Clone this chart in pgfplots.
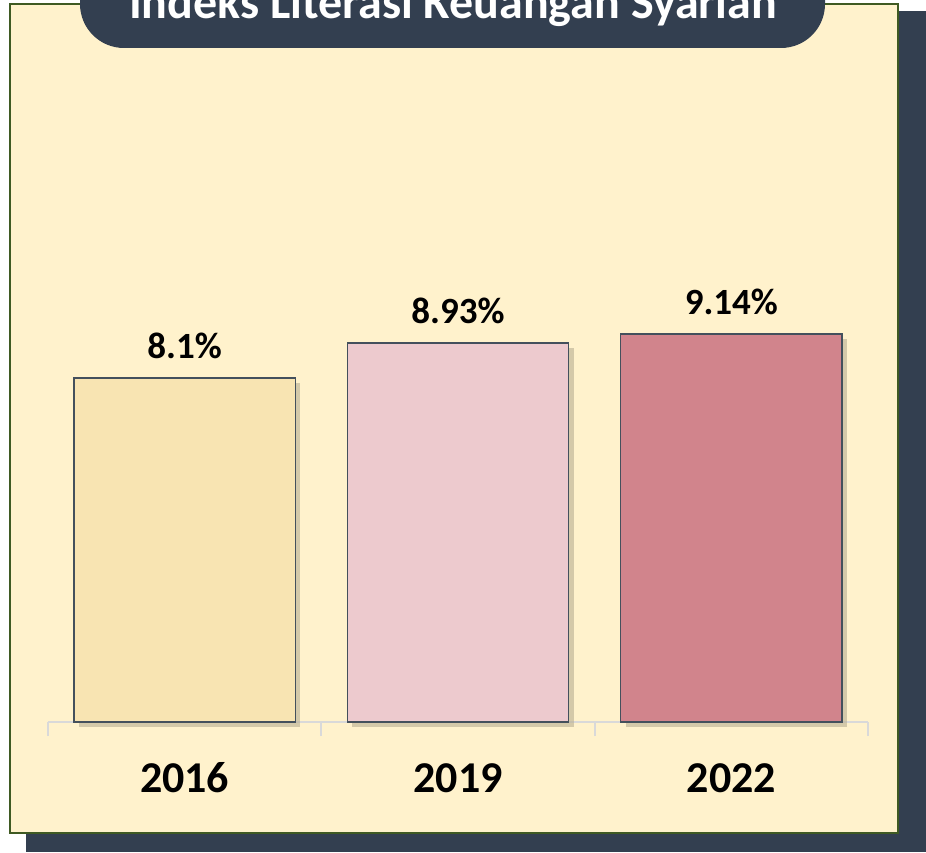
\documentclass[border=0pt]{standalone}
\usepackage{pgfplots}
\pgfplotsset{compat=1.18}
\usepackage{fontspec}
\setmainfont{Carlito}
\definecolor{navy}{HTML}{333F50}
\definecolor{cream}{HTML}{FFF2CC}
\definecolor{panelgreen}{HTML}{3F5A22}
\definecolor{barline}{HTML}{44505C}
\definecolor{barA}{HTML}{F8E4B2}
\definecolor{barB}{HTML}{EDCACE}
\definecolor{barC}{HTML}{D1848C}
\definecolor{axisgray}{HTML}{D9D9D9}
\definecolor{shadowcol}{HTML}{B8AE92}

\begin{document}
\begin{tikzpicture}
\useasboundingbox (0,0) rectangle (463pt,426pt);
\clip (0,0) rectangle (463pt,426pt);
% panel shadow, panel, title tab (pixel units of the reference)
\begin{scope}[x=0.5pt,y=0.5pt]
\fill[navy] (26,0) rectangle (926,841);
\filldraw[fill=cream, draw=panelgreen, line width=1.3pt] (10,19) rectangle (898,848);
\fill[navy, rounded corners=22pt] (80,804) rectangle (825,920);
\node[white, font=\bfseries\fontsize{24}{28}\selectfont, anchor=base, inner sep=0pt]
  at (453,833) {Indeks Literasi Keuangan Syariah};
\end{scope}

\begin{axis}[
  at={(92.33pt,65pt)}, anchor=origin,
  scale only axis, width=410pt, height=297.15pt,
  xmin=-0.5, xmax=2.5, ymin=0, ymax=14,
  axis y line=none, axis x line*=bottom,
  axis line style={draw=axisgray, line width=1pt},
  xtick={0,1,2}, xticklabels={2016,2019,2022},
  major tick length=0pt,
  minor xtick={-0.5,0.5,1.5,2.5},
  minor tick length=7pt, tick align=outside,
  minor tick style={draw=axisgray, line width=1pt},
  xticklabel style={font=\bfseries\fontsize{22}{26}\selectfont, anchor=base, yshift=-35pt},
  ybar, bar width=0.81, bar shift=0pt,
  point meta=explicit symbolic,
  nodes near coords,
  every node near coord/.append style={font=\bfseries\fontsize{18.5}{22}\selectfont, yshift=6pt},
  shadowed/.style={preaction={fill=shadowcol, draw=none, fill opacity=0.6,
    transform canvas={xshift=2.5pt, yshift=-2.5pt}}},
  clip=false,
]
\addplot[fill=barA, draw=barline, line width=0.75pt, shadowed]
  coordinates {(0,8.1) [8.1\%]};
\addplot[fill=barB, draw=barline, line width=0.75pt, shadowed]
  coordinates {(1,8.93) [8.93\%]};
\addplot[fill=barC, draw=barline, line width=0.75pt, shadowed]
  coordinates {(2,9.14) [9.14\%]};
\end{axis}
\end{tikzpicture}
\end{document}
